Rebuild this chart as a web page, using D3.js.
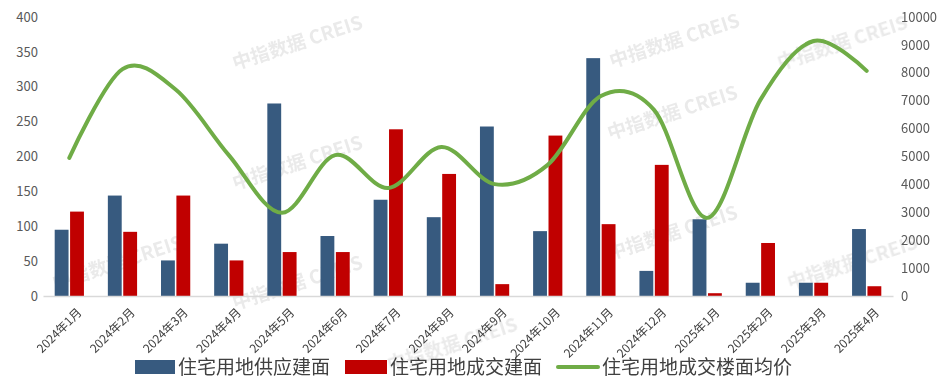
<!DOCTYPE html>
<html>
<head>
<meta charset="utf-8">
<script src="https://cdn.jsdelivr.net/npm/d3@7"></script>
<style>
  body { margin: 0; background: #fff; }
  text { font-family: "Noto Sans CJK SC", "Noto Sans", sans-serif; }
</style>
</head>
<body>
<div id="chart"></div>
<script>
(function () {

  // Data
  const months = ["2024年1月","2024年2月","2024年3月","2024年4月","2024年5月","2024年6月","2024年7月","2024年8月","2024年9月","2024年10月","2024年11月","2024年12月","2025年1月","2025年2月","2025年3月","2025年4月"]
  const supply = [95, 144, 51, 75, 276, 86, 138, 113, 243, 93, 341, 36, 110, 19, 19, 96]
  const deal = [121, 92, 144, 51, 63, 63, 239, 175, 17, 230, 103, 188, 4, 76, 19, 14]
  const price = [4950, 8130, 7400, 5050, 2980, 5050, 3870, 5340, 4010, 4700, 7170, 6670, 2800, 7030, 9140, 8070]
  const leftTicks = [0, 50, 100, 150, 200, 250, 300, 350, 400]
  const rightTicks = [0, 1000, 2000, 3000, 4000, 5000, 6000, 7000, 8000, 9000, 10000]
  const seriesNames = ["住宅用地供应建面", "住宅用地成交建面", "住宅用地成交楼面均价"]

  const W = 943, H = 386
  const margin = { top: 17, right: 50, bottom: 90, left: 43 }
  const width = W - margin.left - margin.right
  const height = H - margin.top - margin.bottom

  const svg = d3.select("#chart").append("svg")
    .attr("width", W)
    .attr("height", H)

  // Watermarks
  const wm = svg.append("g").attr("fill", "#d9d9d9").attr("font-size", 19)
    .attr("font-weight", "bold").attr("opacity", 0.55)
  const wmPos = [[235,70],[612,68],[235,190],[610,140],[55,290],[235,310],[610,260],[390,372],[790,290],[780,70]]
  wmPos.forEach(p => {
    wm.append("text")
      .attr("transform", "translate(" + p[0] + "," + p[1] + ") rotate(-18)")
      .text("中指数据  CREIS")
  })

  const g = svg.append("g")
    .attr("transform", "translate(" + margin.left + "," + margin.top + ")")

  const x = d3.scaleBand().domain(months).range([0, width]).paddingInner(0.45).paddingOuter(0.22)
  const xSub = d3.scaleBand().domain(["s", "d"]).range([0, x.bandwidth()]).paddingInner(0.1)
  const yL = d3.scaleLinear().domain([0, 400]).range([height, 0])
  const yR = d3.scaleLinear().domain([0, 10000]).range([height, 0])
  const xc = d => x(d) + x.bandwidth() / 2

  // Left axis
  const axL = g.append("g").call(d3.axisLeft(yL).tickValues(leftTicks).tickSize(0).tickPadding(5))
  axL.select(".domain").remove()
  axL.selectAll("text").attr("font-size", 13).attr("fill", "#595959")

  // Right axis
  const axR = g.append("g").attr("transform", "translate(" + width + ",0)")
    .call(d3.axisRight(yR).tickValues(rightTicks).tickFormat(d3.format("d")).tickSize(0).tickPadding(8))
  axR.select(".domain").remove()
  axR.selectAll("text").attr("font-size", 13).attr("fill", "#595959")

  // Bars
  g.selectAll("rect.supply").data(months).join("rect")
    .attr("class", "supply")
    .attr("x", d => x(d) + xSub("s"))
    .attr("width", xSub.bandwidth())
    .attr("y", (d, i) => yL(supply[i]))
    .attr("height", (d, i) => height - yL(supply[i]))
    .attr("fill", "#375a7f")

  g.selectAll("rect.deal").data(months).join("rect")
    .attr("class", "deal")
    .attr("x", d => x(d) + xSub("d"))
    .attr("width", xSub.bandwidth())
    .attr("y", (d, i) => yL(deal[i]))
    .attr("height", (d, i) => height - yL(deal[i]))
    .attr("fill", "#c00000")

  // Baseline
  const axB = g.append("g").attr("transform", "translate(0," + height + ")")
    .call(d3.axisBottom(x).tickSize(0).tickPadding(6))
  axB.select(".domain").attr("stroke", "#d9d9d9").attr("stroke-width", 1.5)
  axB.selectAll("text")
    .attr("font-size", 12)
    .attr("fill", "#404040")
    .attr("text-anchor", "end")
    .attr("dy", "0.35em")
    .attr("transform", "translate(6,10) rotate(-45)")

  // Price line
  const line = d3.line()
    .x((d, i) => xc(months[i]))
    .y(d => yR(d))
    .curve(d3.curveCatmullRom.alpha(0))
  g.append("path")
    .datum(price)
    .attr("d", line)
    .attr("fill", "none")
    .attr("stroke", "#6fac46")
    .attr("stroke-width", 4)
    .attr("stroke-linecap", "round")

  // Legend
  const leg = svg.append("g").attr("transform", "translate(0,367)")
  leg.append("rect").attr("x", 135).attr("y", -7).attr("width", 40).attr("height", 14).attr("fill", "#375a7f")
  leg.append("text").attr("x", 178).attr("dy", "0.35em").attr("font-size", 19).attr("fill", "#404040").text(seriesNames[0])
  leg.append("rect").attr("x", 345).attr("y", -7).attr("width", 42).attr("height", 14).attr("fill", "#c00000")
  leg.append("text").attr("x", 390).attr("dy", "0.35em").attr("font-size", 19).attr("fill", "#404040").text(seriesNames[1])
  leg.append("line").attr("x1", 558).attr("x2", 598).attr("y1", 0).attr("y2", 0)
    .attr("stroke", "#6fac46").attr("stroke-width", 4).attr("stroke-linecap", "round")
  leg.append("text").attr("x", 602).attr("dy", "0.35em").attr("font-size", 19).attr("fill", "#404040").text(seriesNames[2])

})();
</script>
</body>
</html>
